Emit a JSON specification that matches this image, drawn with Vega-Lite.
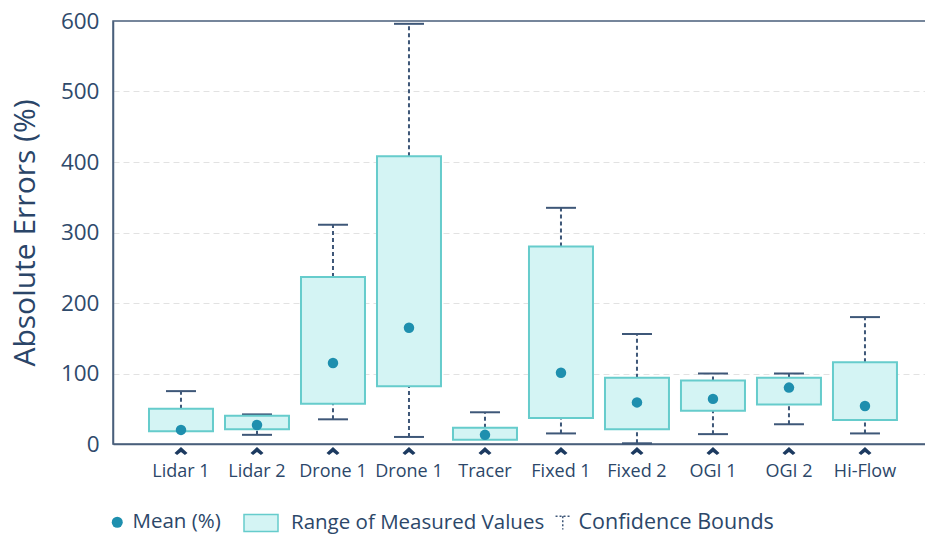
{
  "$schema": "https://vega.github.io/schema/vega-lite/v6.json",
  "width": 815,
  "height": 423,
  "autosize": {"type": "none"},
  "padding": {"left": 113, "top": 21, "right": 0, "bottom": 91},
  "background": "#ffffff",
  "config": {
    "font": "Open Sans",
    "view": {"stroke": "#4a5f7b", "strokeWidth": 1.5},
    "axis": {"labelFont": "Open Sans", "titleFont": "Open Sans"},
    "legend": {"labelFont": "Open Sans", "labelFontSize": 20.5, "labelColor": "#2c4769", "labelLimit": 0, "padding": 0, "title": null}
  },
  "data": {
    "values": [
      {"key": "Lidar 1", "name": "Lidar 1", "q1": 18, "q3": 50, "mean": 20, "lower": null, "upper": 75},
      {"key": "Lidar 2", "name": "Lidar 2", "q1": 21, "q3": 40, "mean": 27, "lower": 13, "upper": 42},
      {"key": "Drone 1", "name": "Drone 1", "q1": 57, "q3": 237, "mean": 115, "lower": 35, "upper": 311},
      {"key": "Drone 1 #2", "name": "Drone 1", "q1": 82, "q3": 408, "mean": 165, "lower": 10, "upper": 596},
      {"key": "Tracer", "name": "Tracer", "q1": 6, "q3": 23, "mean": 13, "lower": null, "upper": 45},
      {"key": "Fixed 1", "name": "Fixed 1", "q1": 37, "q3": 280, "mean": 101, "lower": 15, "upper": 335},
      {"key": "Fixed 2", "name": "Fixed 2", "q1": 21, "q3": 94, "mean": 59, "lower": 1, "upper": 156},
      {"key": "OGI 1", "name": "OGI 1", "q1": 47, "q3": 90, "mean": 64, "lower": 14, "upper": 100},
      {"key": "OGI 2", "name": "OGI 2", "q1": 56, "q3": 94, "mean": 80, "lower": 28, "upper": 100},
      {"key": "Hi-Flow", "name": "Hi-Flow", "q1": 34, "q3": 116, "mean": 54, "lower": 15, "upper": 180}
    ]
  },
  "encoding": {
    "x": {
      "field": "key",
      "type": "nominal",
      "sort": null,
      "scale": {"paddingInner": 0.158, "paddingOuter": 0.441, "align": 0.537},
      "axis": {
        "title": null,
        "labelAngle": 0,
        "labelExpr": "replace(datum.label, ' #2', '')",
        "labelFontSize": 18,
        "labelColor": "#2c4769",
        "labelPadding": 18,
        "ticks": false,
        "domainColor": "#4a5f7b",
        "domainWidth": 1.5,
        "grid": false
      }
    }
  },
  "layer": [
    {
      "mark": {"type": "rule", "strokeDash": [4, 3], "strokeWidth": 2},
      "encoding": {
        "y": {
          "field": "q3",
          "type": "quantitative",
          "scale": {"domain": [0, 600], "nice": false},
          "axis": {
            "title": "Absolute Errors (%)",
            "titleFontSize": 30,
            "titleFontWeight": "normal",
            "titleColor": "#2a4568",
            "titlePadding": 20,
            "values": [0, 100, 200, 300, 400, 500, 600],
            "labelFontSize": 22.5,
            "labelColor": "#2f4a6b",
            "labelPadding": 14,
            "ticks": false,
            "domainColor": "#4a5f7b",
            "domainWidth": 1.5,
            "grid": true,
            "gridDash": [6, 4],
            "gridColor": {"condition": {"test": "datum.value === 600 || datum.value === 0", "value": "transparent"}, "value": "#e2e2e2"},
            "gridWidth": 1
          }
        },
        "y2": {"field": "upper"},
        "stroke": {
          "datum": "Confidence Bounds",
          "type": "nominal",
          "scale": {"domain": ["Confidence Bounds"], "range": ["#3e5778"]},
          "legend": {
            "orient": "none",
            "legendX": 439,
            "legendY": 491,
            "symbolType": "M-0.9,-0.8H0.9M0,-0.8V0.85",
            "symbolSize": 256,
            "symbolStrokeColor": "#4a5f7b",
            "symbolStrokeWidth": 1.5,
            "symbolFillColor": "transparent",
            "symbolDash": [2, 2],
            "labelFontSize": 21.5,
            "labelOffset": 5
          }
        }
      }
    },
    {
      "transform": [{"filter": "datum.lower != null"}],
      "mark": {"type": "rule", "strokeDash": [4, 3], "strokeWidth": 2, "color": "#3e5778"},
      "encoding": {
        "y": {"field": "lower", "type": "quantitative"},
        "y2": {"field": "q1"}
      }
    },
    {
      "mark": {"type": "tick", "size": 30, "thickness": 2, "color": "#3e5778", "opacity": 1},
      "encoding": {"y": {"field": "upper", "type": "quantitative"}}
    },
    {
      "transform": [{"filter": "datum.lower != null"}],
      "mark": {"type": "tick", "size": 30, "thickness": 2, "color": "#3e5778", "opacity": 1},
      "encoding": {"y": {"field": "lower", "type": "quantitative"}}
    },
    {
      "mark": {"type": "bar", "stroke": "#66cccc", "strokeWidth": 2},
      "encoding": {
        "y": {"field": "q1", "type": "quantitative"},
        "y2": {"field": "q3"},
        "fill": {
          "datum": "Range of Measured Values",
          "type": "nominal",
          "scale": {"domain": ["Range of Measured Values"], "range": ["#d4f4f4"]},
          "legend": {
            "orient": "none",
            "legendX": 130,
            "legendY": 484,
            "symbolType": "M-1,-0.5H1V0.5H-1Z",
            "symbolSize": 1156,
            "symbolStrokeColor": "#66cccc",
            "symbolStrokeWidth": 1.5,
            "symbolFillColor": "#d4f4f4",
            "symbolOpacity": 1,
            "labelOffset": 12
          }
        }
      }
    },
    {
      "mark": {"type": "point", "filled": true, "size": 110, "color": "#1e8fae", "opacity": 1},
      "encoding": {
        "y": {"field": "mean", "type": "quantitative"},
        "shape": {
          "datum": "Mean (%)",
          "type": "nominal",
          "scale": {"domain": ["Mean (%)"], "range": ["circle"]},
          "legend": {
            "orient": "none",
            "legendX": -6,
            "legendY": 491,
            "symbolType": "circle",
            "symbolSize": 121,
            "symbolFillColor": "#1e8fae",
            "symbolStrokeColor": "#1e8fae",
            "symbolStrokeWidth": 0,
            "symbolOpacity": 1,
            "labelOffset": 5
          }
        }
      }
    },
    {
      "mark": {
        "type": "point",
        "filled": true,
        "shape": "M-1,0.3L0,-0.6L1,0.3L0.6,0.6L0,0.15L-0.6,0.6Z",
        "size": 169,
        "color": "#1c3a60",
        "opacity": 1,
        "yOffset": 7
      },
      "encoding": {"y": {"datum": 0, "type": "quantitative"}}
    }
  ]
}
